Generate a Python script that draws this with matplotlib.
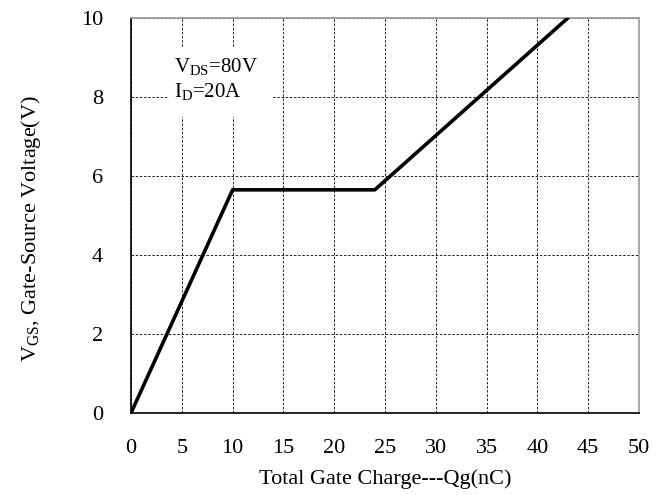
import matplotlib
matplotlib.use("Agg")
import matplotlib.pyplot as plt
from matplotlib.patches import Rectangle

plt.rcParams['font.family'] = ['Liberation Serif', 'DejaVu Serif']
plt.rcParams['mathtext.fontset'] = 'custom'
plt.rcParams['mathtext.rm'] = 'Liberation Serif'
plt.rcParams['mathtext.it'] = 'Liberation Serif'

qg = [0, 10, 24, 43]
vgs = [0, 5.65, 5.65, 10]
xticks = [0, 5, 10, 15, 20, 25, 30, 35, 40, 45, 50]
yticks = [0, 2, 4, 6, 8, 10]

fig = plt.figure(figsize=(6.65, 4.95), dpi=100)
ax = fig.add_axes([131/665, 1 - 413/495, (639-131)/665, (413-18)/495])
ax.set_xlim(0, 50)
ax.set_ylim(0, 10)
ax.set_xticks(xticks)
ax.set_yticks(yticks)
ax.tick_params(axis='x', length=0, labelsize=16, pad=19)
ax.tick_params(axis='y', length=0, labelsize=16, pad=20)
ax.grid(True, color='black', linestyle=(0, (3, 2)), linewidth=0.6)
ax.set_axisbelow(True)
for s in ['top', 'right']:
    ax.spines[s].set_color('#999999')
    ax.spines[s].set_linewidth(1.2)
for s in ['left', 'bottom']:
    ax.spines[s].set_color('black')
    ax.spines[s].set_linewidth(1.2)

ax.plot(qg, vgs, color='black', linewidth=2.6, solid_capstyle='round', zorder=5)

ax.set_xlabel('Total Gate Charge---Qg(nC)', fontsize=16, labelpad=8)
ax.set_ylabel(r'V$_{\mathrm{GS}}$, Gate-Source Voltage(V)', fontsize=16)
ax.yaxis.set_label_coords(-0.173, 0.466)

ax.add_patch(Rectangle((3.6, 7.5), 10.4, 1.75, facecolor='white', edgecolor='none', zorder=3))
ax.text(4.2, 8.76, 'V$_{\\mathrm{DS}}$=80V', fontsize=15, va='center', ha='left', zorder=4)
ax.text(4.2, 8.13, 'I$_{\\mathrm{D}}$=20A', fontsize=15, va='center', ha='left', zorder=4)

fig.savefig('out.png', dpi=100)
